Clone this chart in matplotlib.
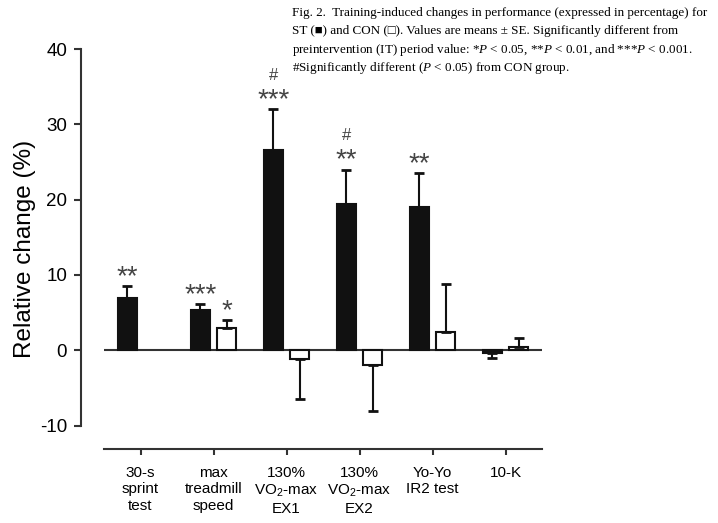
import numpy as np
import matplotlib.pyplot as plt

plt.rcParams['font.family'] = ['Liberation Sans', 'DejaVu Sans']
plt.rcParams['mathtext.fontset'] = 'custom'
plt.rcParams['mathtext.rm'] = 'Liberation Sans'
plt.rcParams['mathtext.it'] = 'Liberation Serif:italic'
plt.rcParams['axes.unicode_minus'] = False

tests = ['30-s\nsprint\ntest', 'max\ntreadmill\nspeed', '130%\nVO$_2$-max\nEX1',
         '130%\nVO$_2$-max\nEX2', 'Yo-Yo\nIR2 test', '10-K']
st_mean = [6.9, 5.4, 26.6, 19.4, 19.0, -0.3]
st_se = [1.6, 0.8, 5.4, 4.6, 4.5, 0.7]
con_mean = [np.nan, 3.0, -1.1, -2.0, 2.4, 0.4]
con_se = [np.nan, 1.0, 5.3, 6.1, 6.4, 1.2]
st_sig = ['**', '***', '***', '**', '**', '']
con_sig = ['', '*', '', '', '', '']
st_vs_con = ['', '', '#', '#', '', '']

fig = plt.figure(figsize=(7.18, 5.23), dpi=100)
ax = fig.add_axes([104 / 718, 74 / 523, 438 / 718, 400 / 523])

x = np.arange(len(tests))
off, w = 0.18, 0.27
ax.axhline(0, color='#333333', lw=1.5, zorder=1)

for xs, m, s, fc in [(x - off, st_mean, st_se, '#111111'), (x + off, con_mean, con_se, 'white')]:
    m = np.array(m)
    s = np.array(s)
    ax.bar(xs, m, width=w, color=fc, edgecolor='#111111', lw=1.5, zorder=2)
    lower = np.where(m < 0, s, 0)
    upper = np.where(m >= 0, s, 0)
    ax.errorbar(xs, m, yerr=[lower, upper], fmt='none', ecolor='#111111',
                elinewidth=1.5, capsize=3.5, capthick=2, zorder=3)

for i in range(len(tests)):
    top = st_mean[i] + st_se[i]
    if st_sig[i]:
        ax.annotate(st_sig[i], (x[i] - off, top), xytext=(0, -3), textcoords='offset points',
                    ha='center', va='bottom', fontsize=20, color='#444444')
    if st_vs_con[i]:
        ax.annotate(st_vs_con[i], (x[i] - off, top), xytext=(0, 19), textcoords='offset points',
                    ha='center', va='bottom', fontsize=12, color='#444444')
    if con_sig[i]:
        ax.annotate(con_sig[i], (x[i] + off, con_mean[i] + con_se[i]), xytext=(0, -3),
                    textcoords='offset points', ha='center', va='bottom', fontsize=20,
                    color='#444444')

ax.set_xlim(-0.5, 5.5)
ax.set_ylim(-13.1, 40)
ax.set_xticks(x)
ax.set_xticklabels(tests, fontsize=11, linespacing=1.25)
ax.set_yticks([-10, 0, 10, 20, 30, 40])
ax.tick_params(axis='y', labelsize=13.5, length=5, width=1.5, color='#333333', pad=5)
ax.tick_params(axis='x', length=4, width=1.5, color='#333333', pad=8)
ax.spines['top'].set_visible(False)
ax.spines['right'].set_visible(False)
ax.spines['left'].set_bounds(-10, 40)
ax.spines['left'].set_position(('outward', 16.5))
for sp in ['left', 'bottom']:
    ax.spines[sp].set_linewidth(1.5)
    ax.spines[sp].set_color('#333333')
ax.set_ylabel('Relative change (%)', fontsize=17.5, labelpad=3)

caption = [
    'Fig. 2.  Training-induced changes in performance (expressed in percentage) for',
    'ST (\u25a0) and CON (\u25a1). Values are means \u00b1 SE. Significantly different from',
    'preintervention (IT) period value: *$P$ < 0.05, **$P$ < 0.01, and ***$P$ < 0.001.',
    '#Significantly different ($P$ < 0.05) from CON group.',
]
for k, line in enumerate(caption):
    fig.text(292 / 718, 1 - (13 + 18.3 * k) / 523, line, fontsize=9.45,
             family=['Liberation Serif', 'DejaVu Serif'], va='center', ha='left')

fig.savefig('out.png', dpi=100)
